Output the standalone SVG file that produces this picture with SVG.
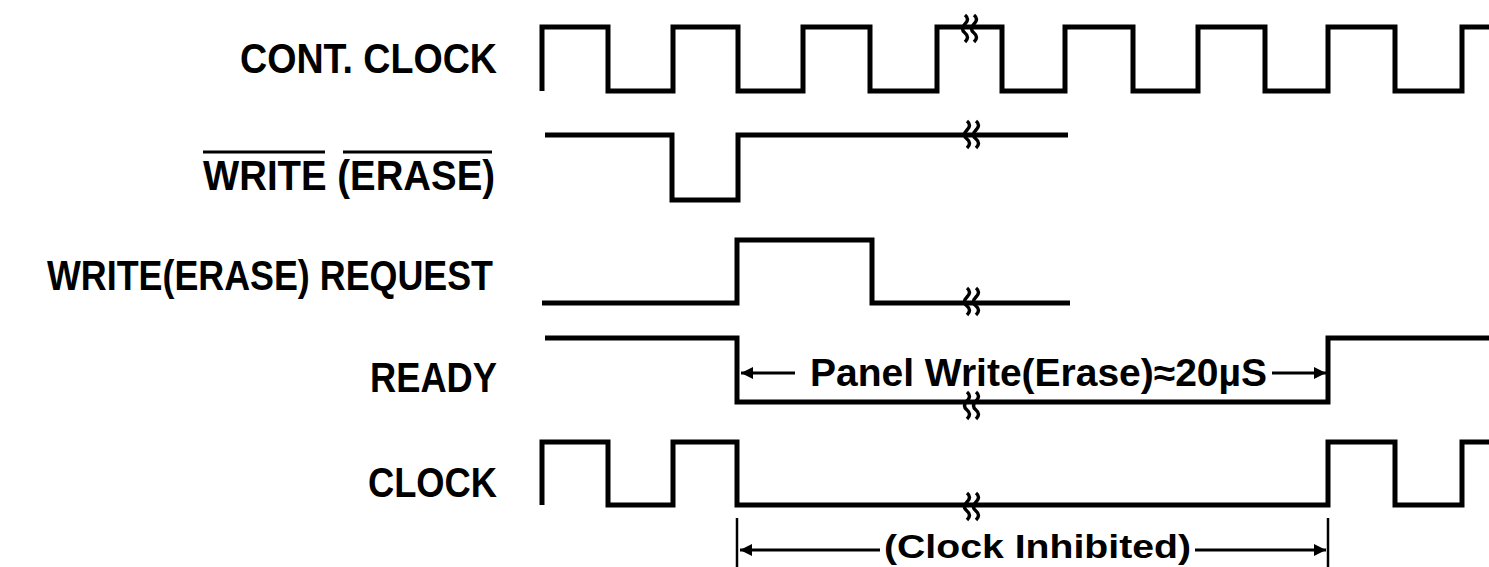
<svg xmlns="http://www.w3.org/2000/svg" width="1489" height="567" viewBox="0 0 1489 567">
<style>
.wave{fill:none;stroke:#000;stroke-width:5;stroke-linejoin:miter;stroke-linecap:butt}
.lbl{font-family:"Liberation Sans",Arial,sans-serif;font-weight:bold;font-size:42px;fill:#000}
.ann{font-family:"Liberation Sans",Arial,sans-serif;font-weight:bold;font-size:38px;fill:#000}
.ann2{font-family:"Liberation Sans",Arial,sans-serif;font-weight:bold;font-size:34px;fill:#000}
.dim{stroke:#000;stroke-width:3;fill:none}
.tick{stroke:#000;stroke-width:2.5;fill:none}
.brk{fill:none;stroke:#000;stroke-width:3.5}
</style>
<defs>
<g id="brk">
<path class="brk" d="M-5,-13 q5,4 0,9 q-5,5 0,9 q5,4 0,9"/>
<path class="brk" d="M4,-13 q5,4 0,9 q-5,5 0,9 q5,4 0,9"/>
</g>
<marker id="ah" viewBox="0 0 10 10" refX="10" refY="5" markerWidth="5" markerHeight="4" orient="auto-start-reverse" markerUnits="strokeWidth">
<path d="M0,0 L10,5 L0,10 z" fill="#000"/>
</marker>
</defs>

<g id="label-cont-clock"><text class="lbl" x="240" y="73" textLength="257" lengthAdjust="spacingAndGlyphs">CONT. CLOCK</text></g>
<g id="label-write-erase">
<text class="lbl" x="203" y="190" textLength="292" lengthAdjust="spacingAndGlyphs">WRITE (ERASE)</text>
<line x1="203" y1="152" x2="325" y2="152" stroke="#000" stroke-width="3"/>
<line x1="343" y1="152" x2="492" y2="152" stroke="#000" stroke-width="3"/>
</g>
<g id="label-request"><text class="lbl" x="47" y="290" textLength="446" lengthAdjust="spacingAndGlyphs">WRITE(ERASE) REQUEST</text></g>
<g id="label-ready"><text class="lbl" x="370" y="392" textLength="127" lengthAdjust="spacingAndGlyphs">READY</text></g>
<g id="label-clock"><text class="lbl" x="368" y="497" textLength="129" lengthAdjust="spacingAndGlyphs">CLOCK</text></g>

<g id="wave-cont-clock">
<path class="wave" d="M542,91 V27 H608 V91 H673 V27 H738 V91 H803 V27 H870 V91 H937 V27 H1002 V91 H1065 V27 H1133 V91 H1198 V27 H1265 V91 H1328 V27 H1395 V91 H1462 V27 H1489"/>
<use href="#brk" x="970" y="28"/>
</g>
<g id="wave-write-erase">
<path class="wave" d="M545,135 H672 V200 H738 V135 H1068"/>
<use href="#brk" x="972" y="134"/>
</g>
<g id="wave-request">
<path class="wave" d="M542,303 H737 V240 H872 V303 H1070"/>
<use href="#brk" x="972" y="301"/>
</g>
<g id="wave-ready">
<path class="wave" d="M545,338 H737 V402 H1328 V338 H1489"/>
<use href="#brk" x="972" y="405"/>
</g>
<g id="wave-clock">
<path class="wave" d="M542,505 V442 H608 V505 H673 V442 H737 V505 H1328 V442 H1395 V505 H1462 V442 H1489"/>
<use href="#brk" x="972" y="506"/>
</g>

<g id="connectors">
<line class="dim" x1="795" y1="373" x2="741" y2="373" marker-end="url(#ah)"/>
<line class="dim" x1="1272" y1="373" x2="1326" y2="373" marker-end="url(#ah)"/>
<line class="tick" x1="737" y1="518" x2="737" y2="567"/>
<line class="tick" x1="1328" y1="518" x2="1328" y2="567"/>
<line class="dim" x1="880" y1="550" x2="740" y2="550" marker-end="url(#ah)"/>
<line class="dim" x1="1195" y1="550" x2="1326" y2="550" marker-end="url(#ah)"/>
</g>
<g id="annotation-panel"><text class="ann" x="810" y="386" textLength="457" lengthAdjust="spacingAndGlyphs">Panel Write(Erase)≈20µS</text></g>
<g id="annotation-clock-inhibited"><text class="ann2" x="884" y="558" textLength="307" lengthAdjust="spacingAndGlyphs">(Clock Inhibited)</text></g>
</svg>
